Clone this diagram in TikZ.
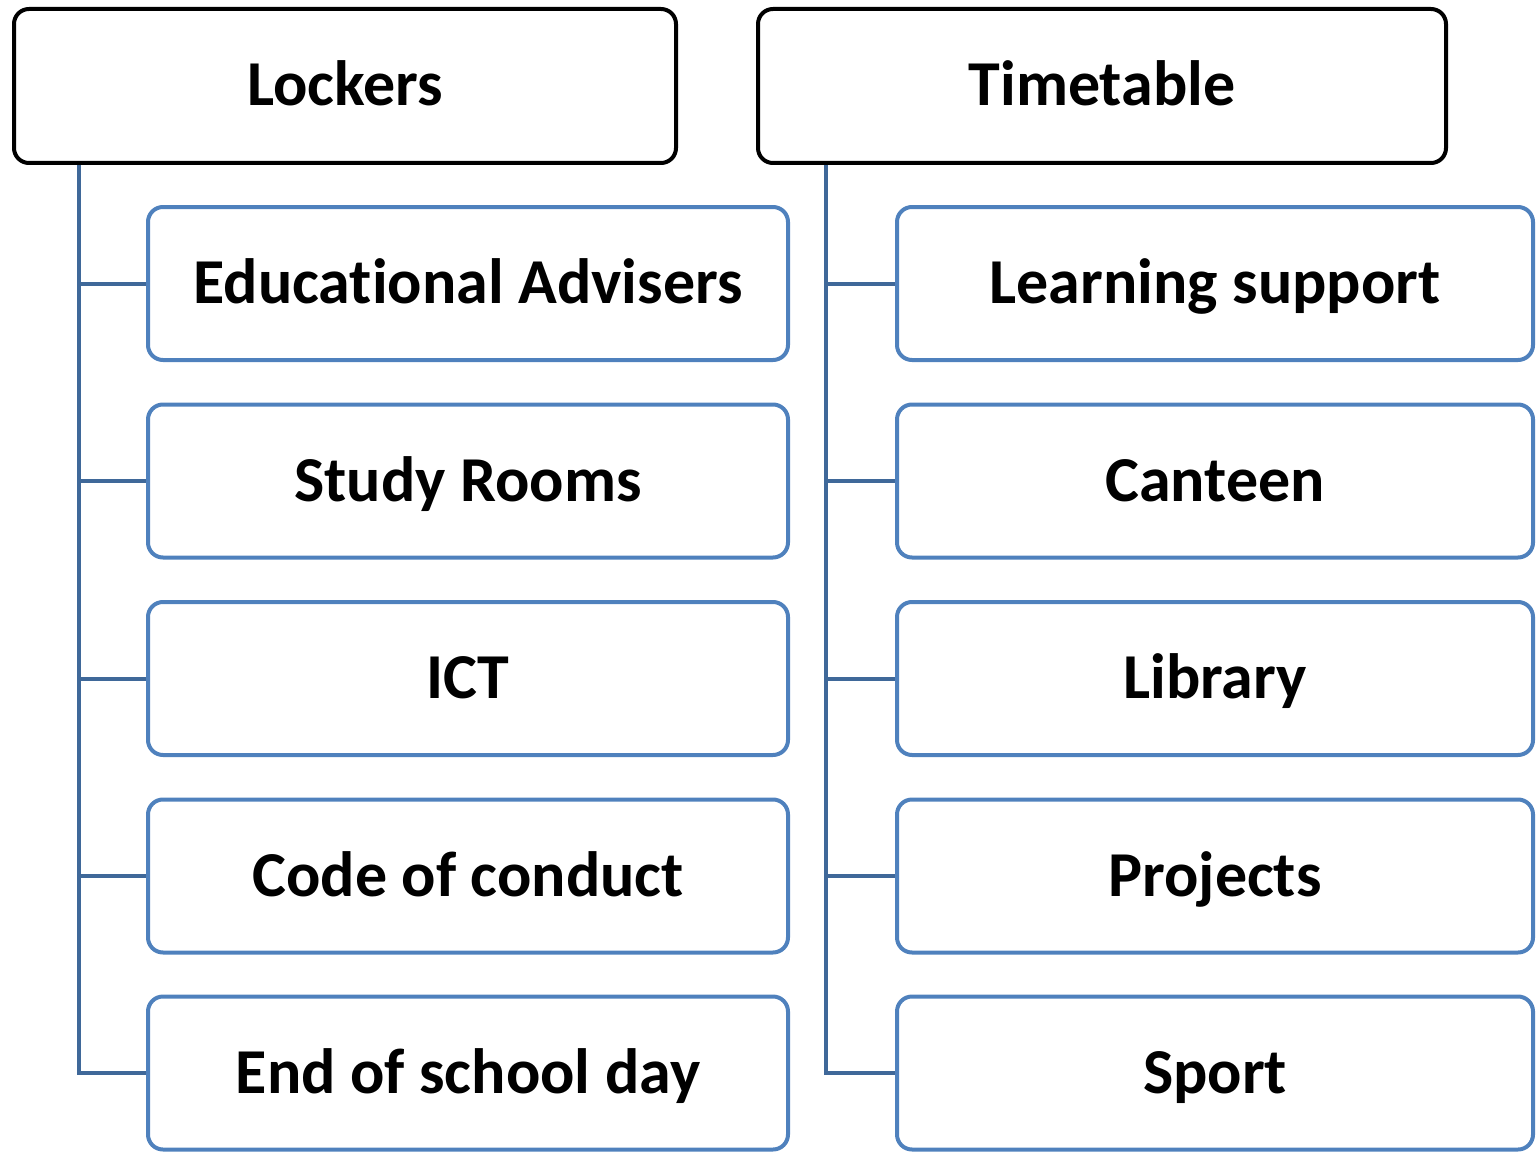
\documentclass[tikz,border=0pt]{standalone}
\usepackage{fontspec}
\setmainfont{Carlito}[Ligatures={NoCommon}]
\begin{document}
\begin{tikzpicture}[x=1pt,y=-1pt,
  every node/.style={font=\fontsize{64}{68}\selectfont\bfseries, rounded corners=15pt, inner sep=0pt, text height=46pt, text depth=6pt},
  topbox/.style={draw=black, line width=4pt, minimum height=154pt},
  childbox/.style={draw=boxblue, line width=4pt, minimum height=153pt},
  conn/.style={draw=connblue, line width=4pt}]
\definecolor{boxblue}{HTML}{4F81BD}
\definecolor{connblue}{HTML}{3F6899}
\useasboundingbox (0,0) rectangle (1537,1153);
\node[topbox, minimum width=662pt] (lockers) at (345,86) {Lockers};
\node[topbox, minimum width=688pt] (timetable) at (1102,86) {Timetable};
\node[childbox, minimum width=640pt] (l1) at (468,283.5) {Educational Advisers};
\node[childbox, minimum width=640pt] (l2) at (468,481) {Study Rooms};
\node[childbox, minimum width=640pt] (l3) at (468,678.5) {ICT};
\node[childbox, minimum width=640pt] (l4) at (468,876) {Code of conduct};
\node[childbox, minimum width=640pt] (l5) at (468,1073) {End of school day};
\node[childbox, minimum width=636pt] (r1) at (1215,283.5) {Learning support};
\node[childbox, minimum width=636pt] (r2) at (1215,481) {Canteen};
\node[childbox, minimum width=636pt] (r3) at (1215,678.5) {Library};
\node[childbox, minimum width=636pt] (r4) at (1215,876) {Projects};
\node[childbox, minimum width=636pt] (r5) at (1215,1073) {Sport};
\coordinate (lt) at (lockers.south west -| 79,0);
\coordinate (rt) at (timetable.south west -| 826,0);
\draw[conn] (lt) |- (l5.west);
\draw[conn] (rt) |- (r5.west);
\foreach \n in {l1,l2,l3,l4} \draw[conn] (\n.west -| lt) -- (\n.west);
\foreach \n in {r1,r2,r3,r4} \draw[conn] (\n.west -| rt) -- (\n.west);
\end{tikzpicture}
\end{document}
